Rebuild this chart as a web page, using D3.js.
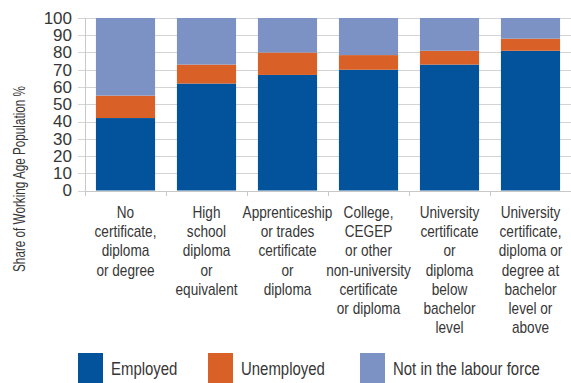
<!DOCTYPE html>
<html>
<head>
<meta charset="utf-8">
<script src="https://cdn.jsdelivr.net/npm/d3@7"></script>
<style>
  html, body { margin: 0; padding: 0; background: #fff; }
  svg { display: block; }
  text { font-family: "Liberation Sans", Arial, sans-serif; }
</style>
</head>
<body>
<svg id="chart" width="571" height="383"></svg>
<script>
// Labour force status by highest level of education
const categories = [
  ["No", "certificate,", "diploma", "or degree"],
  ["High", "school", "diploma", "or", "equivalent"],
  ["Apprenticeship", "or trades", "certificate", "or", "diploma"],
  ["College,", "CEGEP", "or other", "non-university", "certificate", "or diploma"],
  ["University", "certificate", "or", "diploma", "below", "bachelor", "level"],
  ["University", "certificate,", "diploma or", "degree at", "bachelor", "level or", "above"]
];
const employed    = [42, 62, 67, 70, 73, 81];
const unemployed  = [13, 11, 13, 8.5, 8, 7];
const notInLabour = [45, 27, 20, 21.5, 19, 12];

const seriesNames = ["Employed", "Unemployed", "Not in the labour force"];
const colors = ["#02529c", "#d96127", "#7d92c4"];
const yTicks = [0, 10, 20, 30, 40, 50, 60, 70, 80, 90, 100];
const yTitle = "Share of Working Age Population %";

const textColor = "#363636";
const narrow = 0.83; // horizontal squeeze giving a condensed face

const svg = d3.select("#chart");
const plotLeft = 85, plotRight = 571, plotTop = 18, plotBottom = 190.5;

const keys = ["employed", "unemployed", "notInLabour"];
const rows = categories.map((c, i) => ({
  idx: i,
  employed: employed[i],
  unemployed: unemployed[i],
  notInLabour: notInLabour[i]
}));

const x = d3.scaleBand().domain(d3.range(categories.length)).range([plotLeft, plotRight]).paddingInner(0.27).paddingOuter(0.135);
const xb = d3.scaleBand().domain(d3.range(categories.length)).range([plotLeft, plotRight]);
const y = d3.scaleLinear().domain([0, 100]).range([plotBottom, plotTop]);

// Gridlines
svg.append("g")
  .selectAll("line")
  .data(yTicks)
  .join("line")
  .attr("x1", plotLeft - 7).attr("x2", plotRight)
  .attr("y1", d => Math.round(y(d)) + 0.5).attr("y2", d => Math.round(y(d)) + 0.5)
  .attr("stroke", "#d4d4d4").attr("stroke-width", 1);

// Stacked bars
const stacked = d3.stack().keys(keys)(rows);
svg.append("g")
  .selectAll("g")
  .data(stacked)
  .join("g")
  .attr("fill", (d, i) => colors[i])
  .selectAll("rect")
  .data(d => d)
  .join("rect")
  .attr("x", d => x(d.data.idx))
  .attr("width", x.bandwidth())
  .attr("y", d => y(d[1]))
  .attr("height", d => y(d[0]) - y(d[1]));

// Y axis line
svg.append("line")
  .attr("x1", plotLeft + 0.5).attr("x2", plotLeft + 0.5)
  .attr("y1", plotTop).attr("y2", Math.round(plotBottom) + 0.5)
  .attr("stroke", "#c8c8c8");

// X axis line and category ticks
svg.append("line")
  .attr("x1", plotLeft).attr("x2", plotRight)
  .attr("y1", Math.round(plotBottom) + 0.5).attr("y2", Math.round(plotBottom) + 0.5)
  .attr("stroke", "#c8c8c8");
svg.append("g")
  .selectAll("line")
  .data(d3.range(categories.length))
  .join("line")
  .attr("x1", d => Math.round(xb(d)) + 0.5).attr("x2", d => Math.round(xb(d)) + 0.5)
  .attr("y1", Math.round(plotBottom)).attr("y2", Math.round(plotBottom) + 5)
  .attr("stroke", "#c8c8c8");

// Y tick labels
const yAxis = d3.axisLeft(y).tickValues(yTicks).tickSize(0).tickPadding(13);
const gy = svg.append("g").attr("transform", `translate(${plotLeft},0)`).call(yAxis);
gy.select(".domain").remove();
gy.selectAll("text")
  .attr("fill", textColor)
  .style("font-family", "'Liberation Sans', Arial, sans-serif")
  .style("font-size", "17px");

// Y title
svg.append("text")
  .attr("transform", "translate(25,179) rotate(-90) scale(0.71,1)")
  .attr("text-anchor", "middle")
  .attr("fill", textColor)
  .style("font-size", "16.5px")
  .text(yTitle);

// Category labels
const lineH = 19.2;
svg.append("g")
  .selectAll("text")
  .data(categories)
  .join("text")
  .attr("transform", (d, i) => `translate(${xb(i) + xb.bandwidth() / 2},0) scale(0.85,1)`)
  .attr("text-anchor", "middle")
  .attr("fill", textColor)
  .style("font-size", "16px")
  .each(function (lines) {
    d3.select(this).selectAll("tspan")
      .data(lines)
      .join("tspan")
      .attr("x", 0)
      .attr("y", (d, j) => 218 + j * lineH)
      .text(d => d);
  });

// Legend
const legendX = [78, 208, 360];
const legend = svg.append("g")
  .selectAll("g")
  .data(seriesNames)
  .join("g")
  .attr("transform", (d, i) => `translate(${legendX[i]},353)`);
legend.append("rect")
  .attr("width", 25).attr("height", 30)
  .attr("fill", (d, i) => colors[i]);
legend.append("text")
  .attr("transform", `translate(33,22) scale(${narrow},1)`)
  .attr("fill", textColor)
  .style("font-size", "18px")
  .text(d => d);
</script>
</body>
</html>
